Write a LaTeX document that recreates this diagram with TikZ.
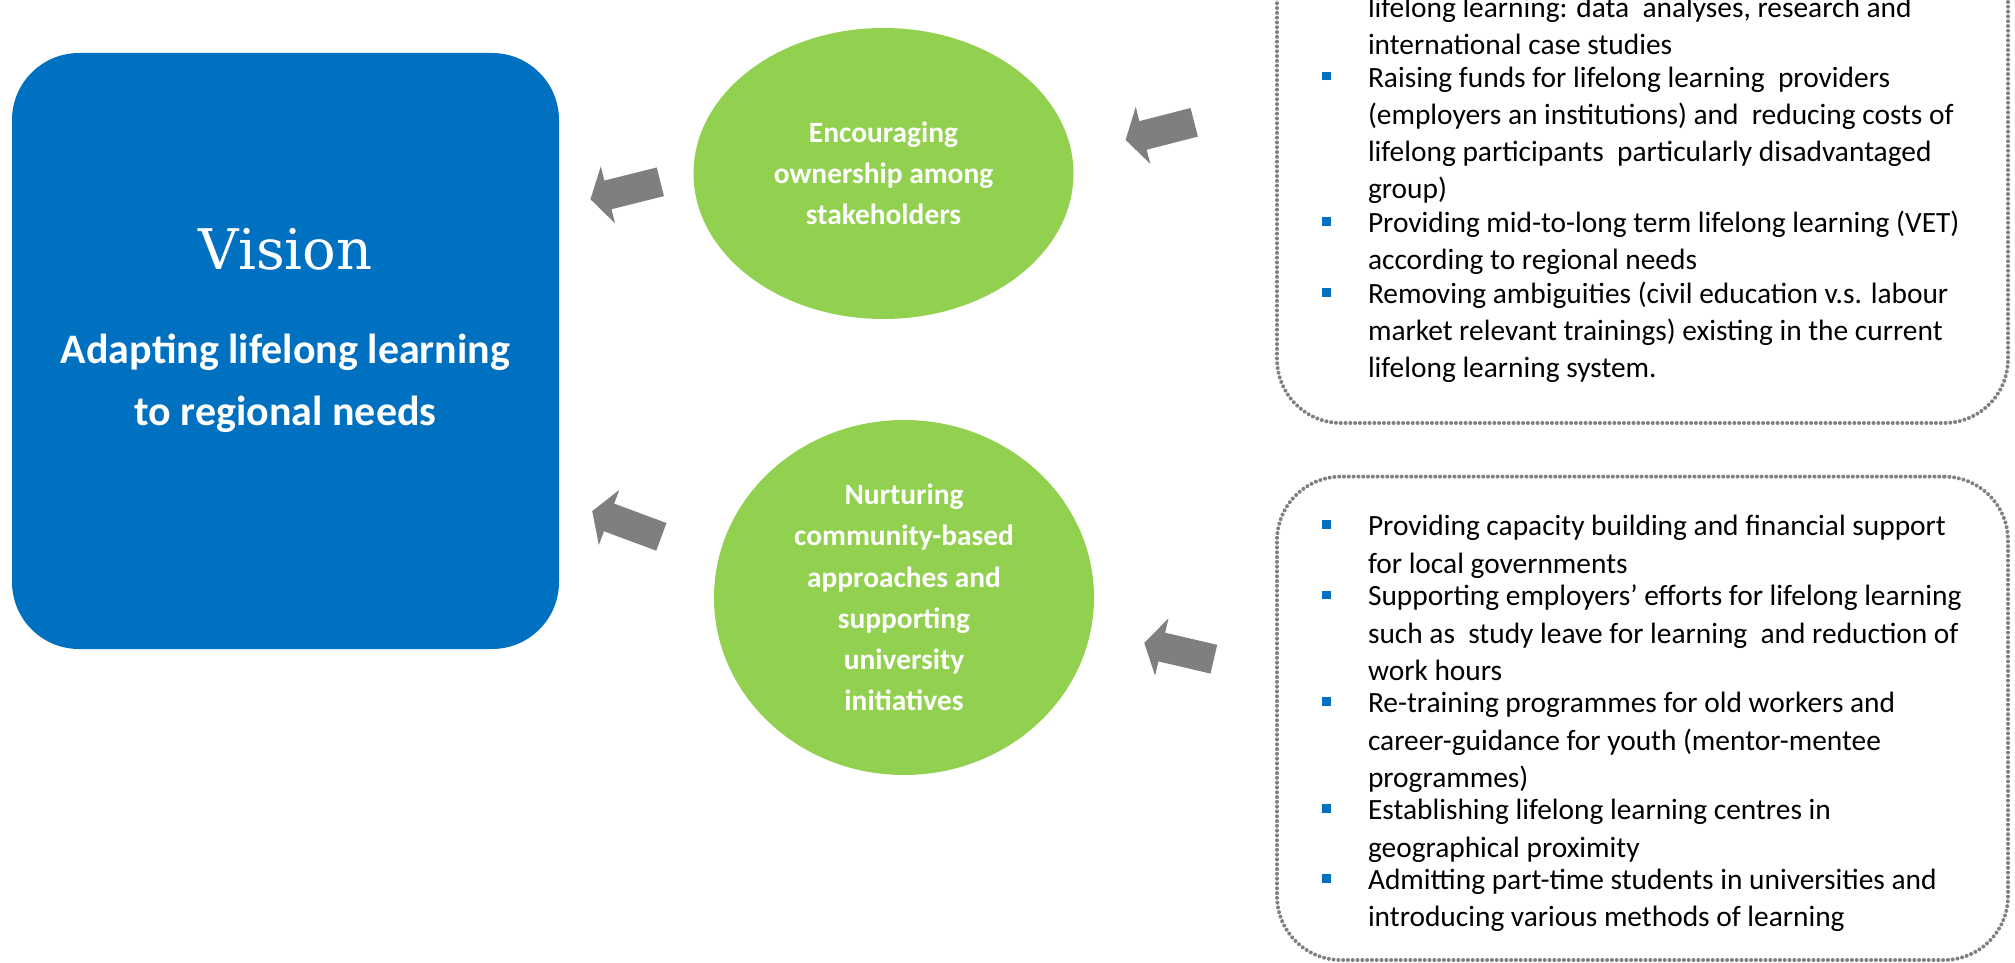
\documentclass[tikz,border=0pt]{standalone}
\usepackage{fontspec}
\setmainfont{Carlito}
\newfontfamily\visionfont{DejaVu Serif}
\usetikzlibrary{arrows.meta,positioning,shapes.geometric}
\definecolor{visionblue}{RGB}{0, 112, 192}
\definecolor{leafgreen}{RGB}{146, 208, 80}
\definecolor{arrowgray}{RGB}{127, 127, 127}
\definecolor{dotgray}{RGB}{128, 128, 128}
\newcommand{\bul}{\llap{\textcolor{visionblue}{\rule[3.4pt]{4.3pt}{4.3pt}}\hspace{18.6pt}}}
\tikzset{
 visionbox/.style={
 rectangle,
 rounded corners=33.5pt,
 fill=visionblue,
 minimum width=273.5pt,
 minimum height=298pt,
 inner sep=0pt
 },
 titletext/.style={
 text=white,
 inner sep=0pt,
 font=\visionfont\fontsize{28}{34}\selectfont
 },
 subtext/.style={
 text=white,
 align=center,
 inner sep=0pt,
 font=\bfseries\fontsize{21}{31}\selectfont
 },
 pillar/.style={
 ellipse,
 fill=leafgreen,
 minimum width=190pt,
 minimum height=145.5pt,
 inner sep=0pt,
 outer sep=0pt,
 align=center,
 text=white,
 font=\bfseries\fontsize{14.7}{20.6}\selectfont
 },
 listbox/.style={
 rectangle,
 rounded corners=32pt,
 draw=dotgray,
 line width=2pt,
 dash pattern=on 0pt off 2.4pt,
 line cap=round,
 minimum width=365.5pt,
 inner sep=0pt
 },
 itemtext/.style={
 align=left,
 inner sep=0pt,
 outer sep=0pt,
 anchor=north west,
 execute at begin node=\strut,
 execute at end node=\strut,
 font=\fontsize{14.7}{18.6}\selectfont
 },
 fatarrow/.style={-{Triangle[width=29pt,length=9pt]}, line width=14.75pt, draw=arrowgray}
}
\begin{document}
\begin{tikzpicture}[x=0.5pt, y=-0.5pt]
 \useasboundingbox (0,0) rectangle (2015,963);
 \clip (0,0) rectangle (2015,963);

 \node[visionbox] (vision) at (285.5,351) {};
 \node[titletext, anchor=base] (title) at (285.5,270) {Vision};
 \node[subtext] (subtitle) at (285.5,383.5) {Adapting lifelong learning\\to regional needs};

 \node[pillar] (ownership) at (883.5,173.5) {Encouraging\\ownership among\\stakeholders};
 \node[pillar, minimum height=177.5pt] (community) at (904,597.5) {Nurturing\\community-based\\approaches and\\supporting\\university\\initiatives};

 \node[listbox, minimum height=276.5pt] (goals) at (1642.5,146.5) {};
 \node[listbox, minimum height=241.7pt] (actions) at (1642.5,718.3) {};

 \node[itemtext] (goal0) at (1368,-3) {lifelong learning: data\ \ analyses, research and\\international case studies};
 \node[itemtext, below=0.5pt of goal0.south west, anchor=north west] (goal1) {\bul Raising funds for lifelong learning\ \ providers\\(employers an institutions) and\ \ reducing costs of\\lifelong participants\ \ particularly disadvantaged\\group)};
 \node[itemtext, below=0.5pt of goal1.south west, anchor=north west] (goal2) {\bul Providing mid-to-long term lifelong learning (VET)\\according to regional needs};
 \node[itemtext, below=0.5pt of goal2.south west, anchor=north west] (goal3) {\bul Removing ambiguities (civil education v.s. labour\\market relevant trainings) existing in the current\\lifelong learning system.};

 \node[itemtext] (act1) at (1368,515.4) {\bul Providing capacity building and financial support\\for local governments};
 \node[itemtext, below=0.5pt of act1.south west, anchor=north west] (act2) {\bul Supporting employers' efforts for lifelong learning\\such as\ \ study leave for learning\ \ and reduction of\\work hours};
 \node[itemtext, below=0.5pt of act2.south west, anchor=north west] (act3) {\bul Re-training programmes for old workers and\\career-guidance for youth (mentor-mentee\\programmes)};
 \node[itemtext, below=0.5pt of act3.south west, anchor=north west] (act4) {\bul Establishing lifelong learning centres in\\geographical proximity};
 \node[itemtext, below=0.5pt of act4.south west, anchor=north west] (act5) {\bul Admitting part-time students in universities and\\introducing various methods of learning};

 \draw[fatarrow, shorten <=17.1pt, shorten >=16pt] (ownership.west) -- ([yshift=72pt]vision.east);
 \draw[fatarrow, shorten <=30.6pt, shorten >=17.5pt] (community.168) -- ([yshift=-74pt]vision.east);
 \draw[fatarrow, shorten <=41.7pt, shorten >=27.8pt] ([yshift=22.45pt]goals.west) -- (ownership.6);
 \draw[fatarrow, shorten <=31.4pt, shorten >=27.5pt] ([yshift=22.4pt]actions.west) -- (community.350);
\end{tikzpicture}
\end{document}
